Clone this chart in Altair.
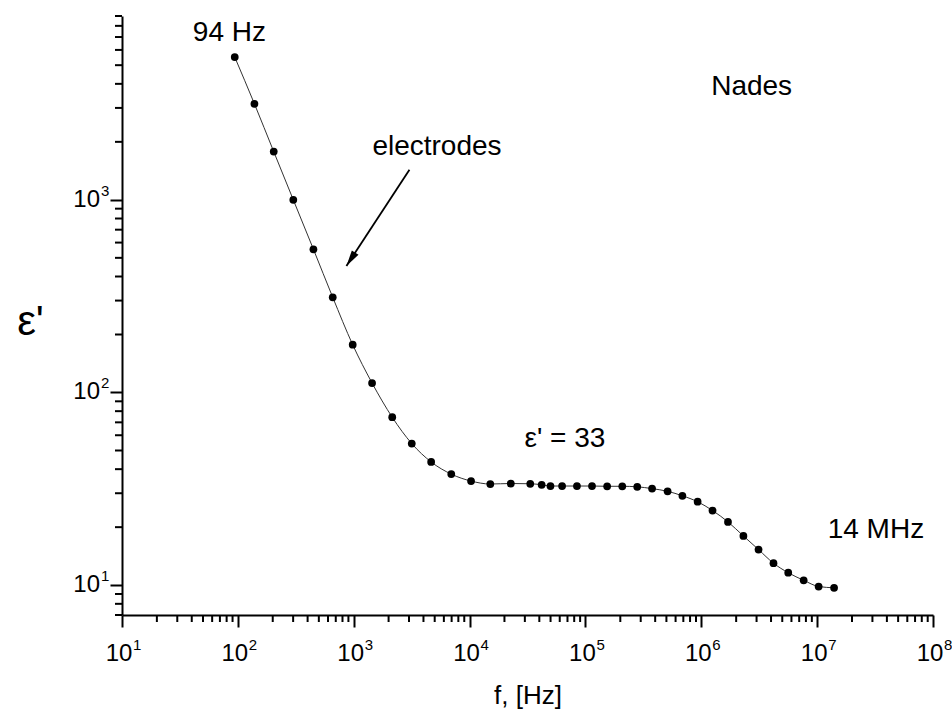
import altair as alt
import pandas as pd

# ---- data ----
freq = [94, 139, 204, 301, 449, 659, 980, 1440, 2150, 3170,
        4660, 6950, 10300, 15100, 22700, 33400, 41900, 49900, 62900, 84500,
        114000, 154000, 208000, 280000, 376000, 512000, 687000, 930000, 1250000, 1700000,
        2310000, 3120000, 4200000, 5630000, 7650000, 10300000, 14000000]
eps = [5510, 3150, 1780, 1000, 554, 312, 177, 112, 74.4, 54.3,
       43.6, 37.7, 34.7, 33.5, 33.7, 33.6, 33.2, 32.7, 32.7, 32.7,
       32.7, 32.6, 32.6, 32.4, 31.7, 30.7, 29.1, 27.1, 24.4, 21.3,
       18.0, 15.3, 13.0, 11.6, 10.6, 9.84, 9.69]

x_major = [1e1, 1e2, 1e3, 1e4, 1e5, 1e6, 1e7, 1e8]
x_exp = ["1", "2", "3", "4", "5", "6", "7", "8"]
y_major = [1e1, 1e2, 1e3]
y_exp = ["1", "2", "3"]
x_minor = [m * 10 ** k for k in range(1, 8) for m in range(2, 10)]
y_minor = [7, 8, 9] + [m * 10 ** k for k in (1, 2, 3) for m in range(2, 10)]

notes_text = ["94 Hz", "electrodes", "Nades", "\u03b5' = 33", "14 MHz"]
notes_f = [84.6, 1449, 2.72e6, 29800, 1.233e7]
notes_e = [7380, 1714, 3865, 52.1, 17.5]
notes_align = ["center", "left", "center", "left", "left"]

arrow_from = (3027, 1432)
arrow_to = (865, 454)

FONT = "Liberation Sans"
W, H = 811, 599

df = pd.DataFrame({"f": freq, "e": eps})
xs = alt.Scale(type="log", domain=[10, 1e8], nice=False)
ys = alt.Scale(type="log", domain=[7, 9000], nice=False)

x_axis = alt.Axis(values=x_major, labels=False, tickSize=12, tickWidth=2,
                  domainWidth=2, domainColor="black", tickColor="black", grid=False,
                  title="f, [Hz]", titleFont=FONT, titleFontSize=26,
                  titleFontWeight="normal", titleColor="black",
                  titleY=80, titleBaseline="middle")
y_axis = alt.Axis(values=y_major, labels=False, tickSize=12, tickWidth=2,
                  domainWidth=2, domainColor="black", tickColor="black", grid=False,
                  title="\u03b5'", titleFont=FONT, titleFontSize=42,
                  titleFontWeight="normal", titleColor="black", titleAngle=0,
                  titleX=-92, titleY=305, titleAlign="center", titleBaseline="middle")

line = alt.Chart(df).mark_line(color="#333333", strokeWidth=1, interpolate="monotone").encode(
    x=alt.X("f:Q", scale=xs, axis=x_axis),
    y=alt.Y("e:Q", scale=ys, axis=y_axis),
)
pts = alt.Chart(df).mark_circle(size=60, color="black", opacity=1).encode(
    x=alt.X("f:Q", scale=xs),
    y=alt.Y("e:Q", scale=ys),
)

xmin_df = pd.DataFrame({"f": x_minor})
ymin_df = pd.DataFrame({"e": y_minor})
xminor = alt.Chart(xmin_df).mark_rule(color="black", strokeWidth=2).encode(
    x=alt.X("f:Q", scale=xs), y=alt.value(H), y2=alt.value(H + 7))
yminor = alt.Chart(ymin_df).mark_rule(color="black", strokeWidth=2).encode(
    y=alt.Y("e:Q", scale=ys), x=alt.value(0), x2=alt.value(-7))

xl_df = pd.DataFrame({"f": x_major, "x": x_exp})
yl_df = pd.DataFrame({"e": y_major, "x": y_exp})
xlab = alt.Chart(xl_df).mark_text(text="10", font=FONT, fontSize=24, align="center",
                                  baseline="middle", dx=-3, color="black").encode(
    x=alt.X("f:Q", scale=xs), y=alt.value(H + 39))
xexp = alt.Chart(xl_df).mark_text(font=FONT, fontSize=15, align="left",
                                  baseline="middle", dx=11, color="black").encode(
    x=alt.X("f:Q", scale=xs), y=alt.value(H + 30), text="x:N")
ylab = alt.Chart(yl_df).mark_text(text="10", font=FONT, fontSize=24, align="right",
                                  baseline="middle", color="black").encode(
    y=alt.Y("e:Q", scale=ys), x=alt.value(-22))
yexp = alt.Chart(yl_df).mark_text(font=FONT, fontSize=15, align="left",
                                  baseline="middle", dy=-9, color="black").encode(
    y=alt.Y("e:Q", scale=ys), x=alt.value(-21), text="x:N")

notes_df = pd.DataFrame({"t": notes_text, "f": notes_f, "e": notes_e, "a": notes_align})
notes_c = alt.Chart(notes_df[notes_df.a == "center"]).mark_text(
    font=FONT, fontSize=28, align="center", baseline="middle", color="black").encode(
    x=alt.X("f:Q", scale=xs), y=alt.Y("e:Q", scale=ys), text="t:N")
notes_l = alt.Chart(notes_df[notes_df.a == "left"]).mark_text(
    font=FONT, fontSize=28, align="left", baseline="alphabetic", color="black").encode(
    x=alt.X("f:Q", scale=xs), y=alt.Y("e:Q", scale=ys), text="t:N")

arr_df = pd.DataFrame({"f": [arrow_from[0]], "e": [arrow_from[1]],
                       "f2": [arrow_to[0]], "e2": [arrow_to[1]]})
shaft = alt.Chart(arr_df).mark_rule(color="black", strokeWidth=1.8).encode(
    x=alt.X("f:Q", scale=xs), y=alt.Y("e:Q", scale=ys),
    x2="f2:Q", y2="e2:Q")
head = alt.Chart(arr_df).mark_point(
    shape="M0,0L0.36,1.45L-0.36,1.45Z", angle=213.3, size=484, filled=True,
    color="black", opacity=1, strokeWidth=0).encode(
    x=alt.X("f2:Q", scale=xs), y=alt.Y("e2:Q", scale=ys))

chart = alt.layer(line, pts, xminor, yminor, xlab, xexp, ylab, yexp,
                  notes_c, notes_l, shaft, head).properties(
    width=W, height=H,
    autosize=alt.AutoSizeParams(type="none"),
    padding={"left": 122, "top": 16, "right": 19, "bottom": 98},
    background="white",
).configure_view(stroke=None)

chart.save("out.html", embed_options={"renderer": "svg", "actions": False})
